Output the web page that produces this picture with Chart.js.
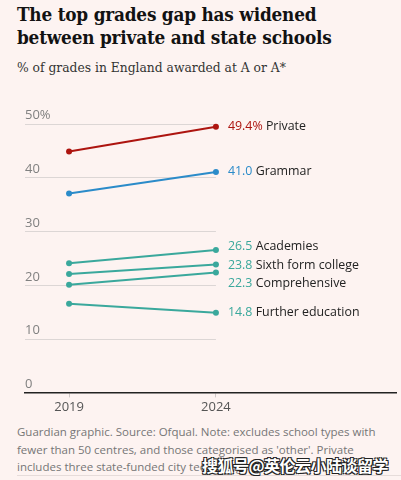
<!DOCTYPE html>
<html>
<head>
<meta charset="utf-8">
<script src="https://cdn.jsdelivr.net/npm/chart.js@4.4.1/dist/chart.umd.min.js"></script>
<style>
  html, body { margin: 0; padding: 0; }
  body { width: 401px; height: 480px; background: #fdf3f1; position: relative; overflow: hidden; }
  .title { position: absolute; left: 17px; top: 3px; width: 384px; font-family: "DejaVu Serif Condensed", "DejaVu Serif", serif; font-weight: bold; font-size: 18.8px; line-height: 23px; color: #121212; letter-spacing: -0.2px; }
  .sub { position: absolute; left: 17px; top: 59px; font-family: "DejaVu Serif Condensed", "DejaVu Serif", serif; font-size: 13.7px; color: #333; }
  #wrap { position: absolute; left: 0; top: 100px; width: 401px; height: 317px; }
  .foot { position: absolute; left: 17px; top: 423px; width: 380px; font-family: "Open Sans", sans-serif; font-size: 11.5px; line-height: 17.5px; color: #767676; }
  .rule { position: absolute; left: 17px; right: 0; top: 475px; border-top: 1px solid #e6dcda; }
  .mark { position: absolute; left: 202px; top: 453px; font-family: "Noto Sans CJK SC", sans-serif; font-weight: bold; font-size: 16px; color: #fff; letter-spacing: -0.5px;
          text-shadow: -1px -1px 0 #222, 1px -1px 0 #222, -1px 1px 0 #222, 1px 1px 0 #222; }
</style>
</head>
<body>
<div class="title">The top grades gap has widened<br>between private and state schools</div>
<div class="sub">% of grades in England awarded at A or A*</div>
<div id="wrap"><canvas id="gapChart" width="401" height="317"></canvas></div>
<div class="foot">Guardian graphic. Source: Ofqual. Note: excludes school types with fewer than 50 centres, and those categorised as 'other'. Private includes three state-funded city technology colleges</div>
<div class="rule"></div>
<div class="mark">搜狐号@英伦云小陆谈留学</div>
<script>
// ─── Data ──────────────────────────
const years = [2019, 2024];
const yTicks = [0, 10, 20, 30, 40, 50];

const schoolNames = ['Private', 'Grammar', 'Academies', 'Sixth form college', 'Comprehensive', 'Further education'];
const privateVals = [44.8, 49.4];
const grammarVals = [37.0, 41.0];
const academiesVals = [24.0, 26.5];
const sixthFormVals = [22.0, 23.8];
const comprehensiveVals = [20.0, 22.3];
const furtherEdVals = [16.5, 14.8];

const RED = '#ad140f';
const BLUE = '#2b8bc9';
const TEAL = '#3aa89c';
const seriesColors = [RED, BLUE, TEAL, TEAL, TEAL, TEAL];
const seriesVals = [privateVals, grammarVals, academiesVals, sixthFormVals, comprehensiveVals, furtherEdVals];

const LABEL_FONT = '12.4px "Open Sans", sans-serif';

// gridlines stop at the last year, not the full chart width
const shortGrid = {
    id: 'shortGrid',
    beforeDatasetsDraw(chart) {
        const { ctx, scales: { x, y }, chartArea } = chart;
        const xEnd = x.getPixelForValue(years[years.length - 1]);
        ctx.save();
        ctx.strokeStyle = '#dcd6d5';
        ctx.lineWidth = 1;
        yTicks.forEach(v => {
            if (v === 0) return;
            const py = Math.round(y.getPixelForValue(v)) + 0.5;
            ctx.beginPath();
            ctx.moveTo(chartArea.left, py);
            ctx.lineTo(xEnd, py);
            ctx.stroke();
        });
        ctx.restore();
    }
};

// value + name labels at the end of each line, spread out where they crowd
const endLabels = {
    id: 'endLabels',
    afterDatasetsDraw(chart) {
        const { ctx } = chart;
        const items = chart.data.datasets.map((ds, i) => {
            const last = ds.data.length - 1;
            const pt = chart.getDatasetMeta(i).data[last];
            return { i, x: pt.x, y: pt.y, ly: pt.y, ds, v: ds.data[last].y };
        }).sort((a, b) => a.y - b.y);

        const gap = 18.3;
        const groups = [];
        items.forEach(it => {
            const g = groups[groups.length - 1];
            if (g && it.y - g[g.length - 1].y < gap) g.push(it);
            else groups.push([it]);
        });
        groups.forEach(g => {
            if (g.length > 1) g.forEach((it, j) => { it.ly = g[0].y - 3 + j * gap; });
        });

        ctx.save();
        ctx.font = LABEL_FONT;
        ctx.textBaseline = 'middle';
        ctx.textAlign = 'left';
        items.forEach(it => {
            const valTxt = it.v.toFixed(1) + (it.i === 0 ? '%' : '');
            const tx = it.x + 12;
            ctx.fillStyle = it.ds.borderColor;
            ctx.fillText(valTxt, tx, it.ly);
            const w = ctx.measureText(valTxt + ' ').width;
            ctx.fillStyle = '#222';
            ctx.fillText(it.ds.label, tx + w, it.ly);
        });
        ctx.restore();
    }
};

const ctxGap = document.getElementById('gapChart').getContext('2d');

new Chart(ctxGap, {
    type: 'line',
    data: {
        datasets: seriesVals.map((vals, i) => ({
            label: schoolNames[i],
            data: vals.map((v, k) => ({ x: years[k], y: v })),
            borderColor: seriesColors[i],
            backgroundColor: seriesColors[i],
            borderWidth: 2,
            pointRadius: 3,
            pointBorderWidth: 0,
            tension: 0,
            clip: false
        }))
    },
    options: {
        responsive: false,
        animation: false,
        layout: { padding: { left: 17, right: 5, top: 23.5, bottom: 0 } },
        plugins: {
            legend: { display: false },
            tooltip: { enabled: false }
        },
        scales: {
            x: {
                type: 'linear',
                min: 2017.5,
                max: 2030.13,
                afterBuildTicks: axis => { axis.ticks = years.map(v => ({ value: v })); },
                ticks: {
                    font: { size: 13, family: 'Open Sans' },
                    color: '#555',
                    padding: 2,
                    callback: v => String(v)
                },
                grid: { drawOnChartArea: false, drawTicks: true, tickLength: 5, color: '#cfc8c7' },
                border: { color: '#222', width: 1.5 }
            },
            y: {
                min: 0,
                max: 50,
                afterBuildTicks: axis => { axis.ticks = yTicks.map(v => ({ value: v })); },
                ticks: {
                    mirror: true,
                    padding: 0,
                    labelOffset: -8,
                    font: { size: 13, family: 'Open Sans' },
                    color: '#808080',
                    callback: v => v === 50 ? v + '%' : String(v)
                },
                grid: { display: false },
                border: { display: false }
            }
        }
    },
    plugins: [shortGrid, endLabels]
});
</script>
</body>
</html>
